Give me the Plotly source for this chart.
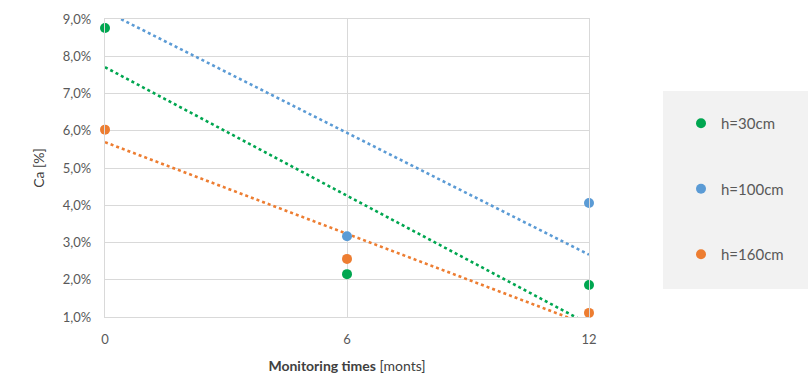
import numpy as np
import plotly.graph_objects as go

# Monitoring times (months) and Ca content (%) per sampling depth
months = [0, 6, 12]
ca_h30 = [8.76, 2.15, 1.86]
ca_h100 = [10.60, 3.17, 4.06]
ca_h160 = [6.03, 2.56, 1.11]

series_names = ["h=30cm", "h=100cm", "h=160cm"]
marker_colors = ["#00A650", "#5B9BD5", "#ED7D31"]
trend_colors = ["#00A650", "#5B9BD5", "#ED7D31"]

y_ticks = [1, 2, 3, 4, 5, 6, 7, 8, 9]
y_ticktext = [f"{v},0%" for v in y_ticks]
x_ticks = [0, 6, 12]

Y_MIN, Y_MAX = 1, 9
FONT = "Lato"
GREY = "#595959"
GRID = "#D9D9D9"

fig = go.Figure()

all_series = [ca_h30, ca_h100, ca_h160]

# linear trend lines (dotted) fitted to each series
for vals, col in zip(all_series, trend_colors):
    slope, intercept = np.polyfit(months, vals, 1)
    xs = np.array([months[0], months[-1]], dtype=float)
    fig.add_trace(go.Scatter(
        x=xs, y=slope * xs + intercept, mode="lines",
        line=dict(color=col, width=2.6, dash="dot"),
        showlegend=False, hoverinfo="skip",
    ))

# measured points; values beyond the axis maximum are left out of view
for i, (vals, name, col) in enumerate(zip(all_series, series_names, marker_colors)):
    shown = [v if Y_MIN <= v <= Y_MAX else None for v in vals]
    fig.add_trace(go.Scatter(
        x=months, y=shown, mode="markers", name=name,
        marker=dict(color=col, size=10),
        cliponaxis=False, legendgroup=f"g{i}",
    ))

# grey panel behind the legend
fig.add_shape(type="rect", xref="paper", yref="paper",
              x0=(663 - 105) / 484, x1=(810 - 105) / 484,
              y0=(317 - 289) / 298, y1=(317 - 91) / 298,
              fillcolor="#F2F2F2", line=dict(width=0), layer="below")

fig.update_layout(
    width=808, height=374,
    margin=dict(l=105, r=219, t=19, b=57),
    plot_bgcolor="white", paper_bgcolor="white",
    font=dict(family=FONT, color=GREY, size=13),
    showlegend=True,
    legend=dict(
        x=(681 - 105) / 484, y=(317 - 107) / 298,
        xanchor="left", yanchor="top",
        bgcolor="rgba(0,0,0,0)", borderwidth=0,
        font=dict(family=FONT, size=15, color=GREY),
        tracegroupgap=43, itemwidth=30, itemsizing="trace",
    ),
    xaxis=dict(
        range=[0, 12], tickvals=x_ticks, ticktext=[str(v) for v in x_ticks],
        showgrid=True, gridcolor=GRID, gridwidth=1.3,
        zeroline=False, showline=True, linecolor=GRID, linewidth=1.3,
        mirror=True, ticks="", ticklabelstandoff=10, automargin=False,
        title=dict(text="<b>Monitoring times</b> [monts]",
                   font=dict(family=FONT, size=14, color="#404040"), standoff=16),
    ),
    yaxis=dict(
        range=[Y_MIN, Y_MAX], tickvals=y_ticks, ticktext=y_ticktext,
        showgrid=True, gridcolor=GRID, gridwidth=1.3,
        zeroline=False, showline=True, linecolor=GRID, linewidth=1.3,
        mirror=True, ticks="", ticklabelstandoff=10, automargin=False,
        title=dict(text="Ca [%]", font=dict(family=FONT, size=14, color="#404040"),
                   standoff=14),
    ),
)

fig.write_html("out.html")
